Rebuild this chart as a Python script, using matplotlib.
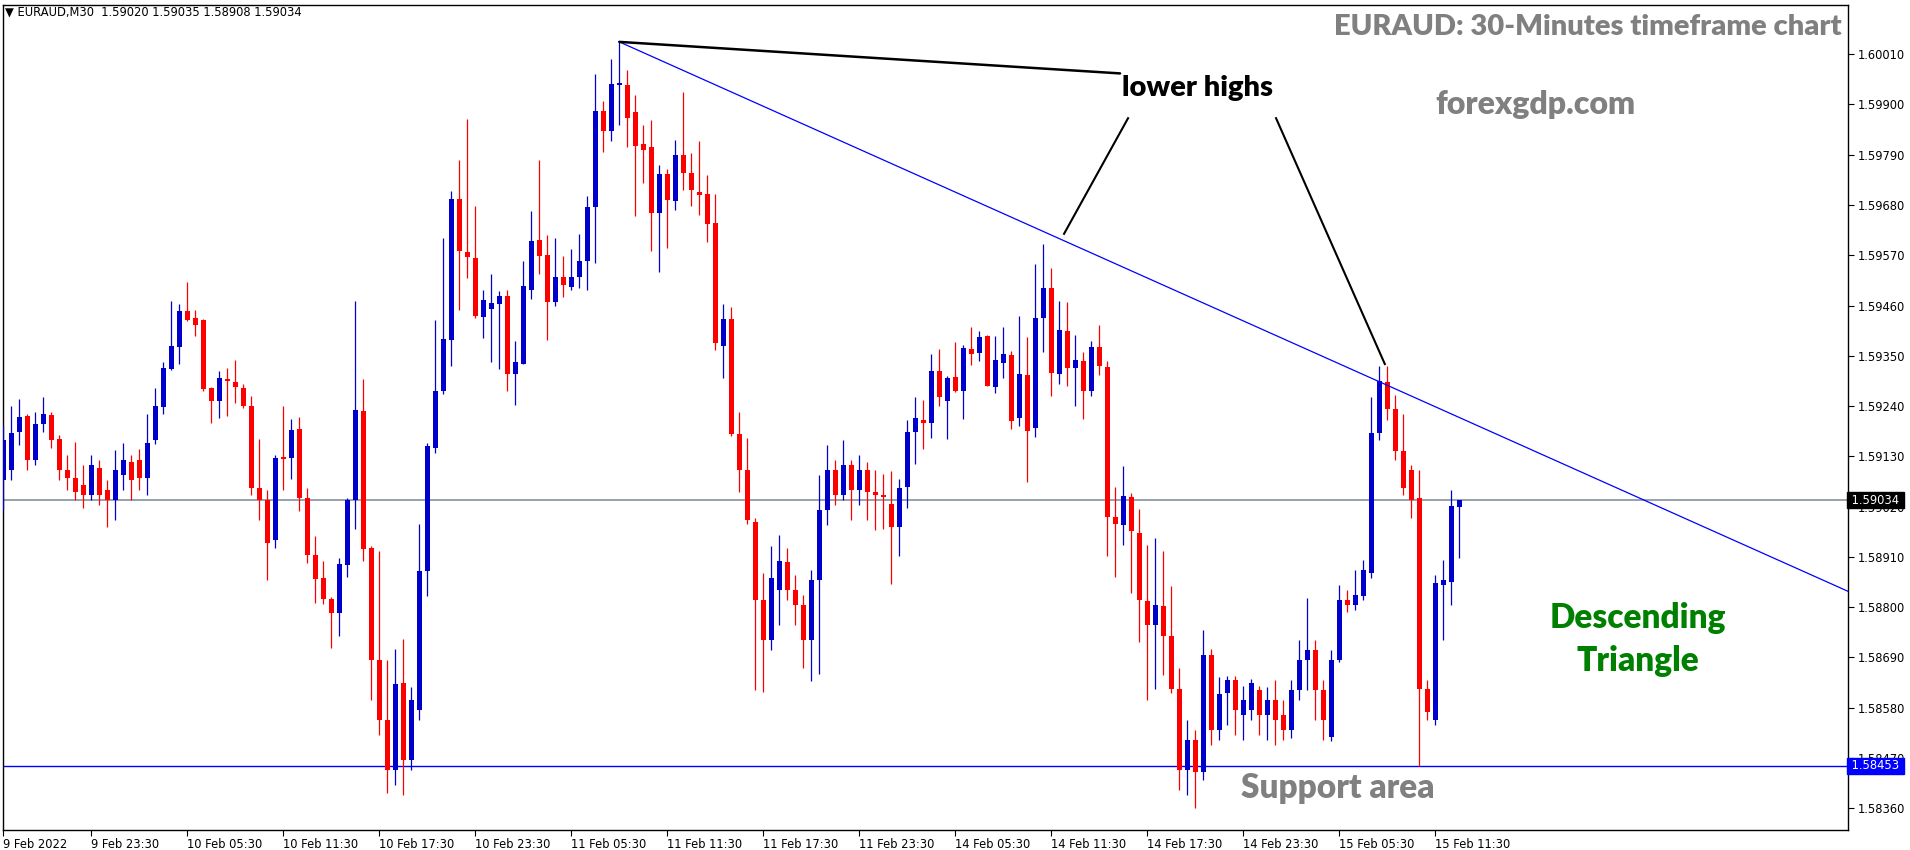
import matplotlib
matplotlib.use("Agg")
import matplotlib.pyplot as plt
import matplotlib.transforms as mtransforms
import numpy as np

# ---------------- data (EURAUD M30) ----------------
opens = [1.59079,1.59100,1.59184,1.59219,1.59122,1.59200,1.59221,1.59168,1.59100,1.59083,
1.59068,1.59046,1.59105,1.59057,1.59035,1.59090,1.59118,1.59122,1.59083,1.59165,
1.59239,1.59322,1.59370,1.59448,1.59433,1.59429,1.59280,1.59252,1.59300,1.59293,
1.59280,1.59241,1.59061,1.59035,1.58947,1.59129,1.59127,1.59190,1.59039,1.58915,
1.58864,1.58818,1.58788,1.58893,1.59035,1.59230,1.58930,1.58685,1.58553,1.58444,
1.58635,1.58466,1.58575,1.58878,1.59149,1.59273,1.59385,1.59693,1.59577,1.59564,
1.59435,1.59453,1.59464,1.59481,1.59311,1.59333,1.59495,1.59604,1.59571,1.59467,
1.59523,1.59501,1.59523,1.59558,1.59675,1.59886,1.59843,1.59942,1.59943,1.59884,
1.59814,1.59807,1.59663,1.59748,1.59688,1.59790,1.59750,1.59709,1.59704,1.59641,
1.59372,1.59431,1.59179,1.59100,1.58987,1.58816,1.58729,1.58838,1.58899,1.58838,
1.58805,1.58729,1.58860,1.59013,1.59100,1.59046,1.59111,1.59057,1.59100,1.59052,
1.59046,1.59026,1.58976,1.59064,1.59184,1.59210,1.59204,1.59317,1.59252,1.59304,
1.59274,1.59365,1.59357,1.59394,1.59281,1.59335,1.59352,1.59213,1.59308,1.59193,
1.59432,1.59499,1.59311,1.59405,1.59324,1.59339,1.59274,1.59370,1.59326,1.58998,
1.58979,1.59041,1.58963,1.58814,1.58760,1.58803,1.58737,1.58621,1.58444,1.58510,
1.58440,1.58696,1.58532,1.58612,1.58641,1.58564,1.58575,1.58619,1.58564,1.58597,
1.58564,1.58532,1.58619,1.58685,1.58707,1.58619,1.58516,1.58685,1.58816,1.58805,
1.58825,1.58875,1.59182,1.59293,1.59234,1.59142,1.59100,1.59039,1.58621,1.58553,
1.58849,1.58855,1.59020]

highs = [1.59199,1.59241,1.59256,1.59223,1.59227,1.59260,1.59227,1.59177,1.59133,1.59162,
1.59111,1.59133,1.59122,1.59079,1.59144,1.59160,1.59133,1.59146,1.59223,1.59280,
1.59337,1.59470,1.59464,1.59512,1.59451,1.59431,1.59282,1.59317,1.59324,1.59341,
1.59289,1.59262,1.59168,1.59057,1.59133,1.59241,1.59212,1.59216,1.59061,1.58956,
1.58901,1.58823,1.58908,1.59039,1.59470,1.59300,1.58934,1.58923,1.58685,1.58709,
1.58731,1.58626,1.58982,1.59160,1.59429,1.59608,1.59711,1.59779,1.59869,1.59678,
1.59494,1.59529,1.59492,1.59494,1.59383,1.59558,1.59667,1.59779,1.59615,1.59608,
1.59569,1.59584,1.59617,1.59700,1.59967,1.59908,1.60000,1.60037,1.59976,1.59921,
1.59855,1.59866,1.59768,1.59759,1.59823,1.59928,1.59794,1.59820,1.59746,1.59704,
1.59464,1.59457,1.59227,1.59171,1.58994,1.58874,1.58934,1.58958,1.58930,1.58871,
1.58827,1.58882,1.59090,1.59155,1.59122,1.59166,1.59122,1.59133,1.59118,1.59100,
1.59092,1.59098,1.59081,1.59210,1.59260,1.59254,1.59354,1.59365,1.59306,1.59381,
1.59374,1.59413,1.59405,1.59396,1.59394,1.59413,1.59361,1.59437,1.59392,1.59551,
1.59595,1.59542,1.59470,1.59468,1.59396,1.59359,1.59383,1.59418,1.59339,1.59063,
1.59109,1.59050,1.59014,1.58935,1.58952,1.58922,1.58847,1.58666,1.58553,1.58532,
1.58750,1.58709,1.58648,1.58650,1.58650,1.58628,1.58643,1.58628,1.58626,1.58641,
1.58597,1.58641,1.58729,1.58820,1.58729,1.58641,1.58707,1.58849,1.58838,1.58882,
1.58904,1.59260,1.59328,1.59328,1.59265,1.59223,1.59111,1.59100,1.58641,1.58871,
1.58904,1.59057,1.59035]

lows = [1.59013,1.59079,1.59155,1.59100,1.59111,1.59184,1.59149,1.59079,1.59057,1.59035,
1.59017,1.59035,1.59024,1.58976,1.58991,1.59057,1.59035,1.59057,1.59046,1.59156,
1.59222,1.59320,1.59331,1.59427,1.59394,1.59274,1.59202,1.59215,1.59219,1.59246,
1.59235,1.59046,1.58991,1.58860,1.58930,1.59056,1.59081,1.59010,1.58897,1.58810,
1.58806,1.58711,1.58736,1.58867,1.58972,1.58900,1.58597,1.58521,1.58394,1.58411,
1.58389,1.58444,1.58553,1.58825,1.59138,1.59266,1.59327,1.59451,1.59521,1.59432,
1.59388,1.59337,1.59321,1.59273,1.59243,1.59333,1.59475,1.59530,1.59385,1.59460,
1.59478,1.59493,1.59499,1.59493,1.59554,1.59797,1.59819,1.59856,1.59808,1.59656,
1.59729,1.59580,1.59534,1.59585,1.59668,1.59712,1.59677,1.59659,1.59598,1.59362,
1.59302,1.59175,1.59053,1.58981,1.58619,1.58615,1.58707,1.58761,1.58816,1.58761,
1.58667,1.58639,1.58654,1.58980,1.59024,1.59035,1.58991,1.59024,1.58991,1.58969,
1.58970,1.58850,1.58913,1.59016,1.59114,1.59145,1.59171,1.59241,1.59169,1.59271,
1.59211,1.59329,1.59338,1.59283,1.59268,1.59302,1.59189,1.59197,1.59073,1.59173,
1.59359,1.59263,1.59289,1.59285,1.59241,1.59211,1.59263,1.59309,1.58913,1.58867,
1.58935,1.58832,1.58723,1.58597,1.58621,1.58652,1.58612,1.58400,1.58389,1.58361,
1.58422,1.58499,1.58510,1.58542,1.58521,1.58510,1.58553,1.58521,1.58510,1.58499,
1.58510,1.58514,1.58597,1.58619,1.58553,1.58510,1.58508,1.58680,1.58790,1.58794,
1.58816,1.58864,1.59166,1.59210,1.59122,1.59046,1.58996,1.58453,1.58553,1.58542,
1.58729,1.58805,1.58908]

closes = [1.59166,1.59182,1.59216,1.59122,1.59201,1.59223,1.59165,1.59100,1.59083,1.59052,
1.59046,1.59111,1.59046,1.59035,1.59100,1.59122,1.59079,1.59083,1.59160,1.59241,
1.59324,1.59372,1.59448,1.59429,1.59418,1.59278,1.59252,1.59302,1.59294,1.59281,
1.59241,1.59061,1.59035,1.58941,1.59127,1.59125,1.59188,1.59039,1.58915,1.58862,
1.58817,1.58788,1.58895,1.59035,1.59232,1.58928,1.58685,1.58553,1.58444,1.58632,
1.58466,1.58597,1.58880,1.59152,1.59273,1.59387,1.59693,1.59580,1.59567,1.59437,
1.59472,1.59466,1.59481,1.59311,1.59337,1.59503,1.59602,1.59569,1.59467,1.59523,
1.59504,1.59523,1.59558,1.59676,1.59886,1.59843,1.59945,1.59947,1.59871,1.59810,
1.59801,1.59663,1.59748,1.59690,1.59790,1.59751,1.59712,1.59703,1.59639,1.59377,
1.59431,1.59178,1.59101,1.58990,1.58816,1.58729,1.58864,1.58900,1.58838,1.58805,
1.58729,1.58860,1.59013,1.59100,1.59046,1.59111,1.59057,1.59100,1.59052,1.59046,
1.59040,1.58976,1.59061,1.59184,1.59214,1.59204,1.59317,1.59259,1.59302,1.59274,
1.59368,1.59355,1.59392,1.59285,1.59341,1.59354,1.59208,1.59311,1.59186,1.59433,
1.59499,1.59313,1.59407,1.59324,1.59340,1.59274,1.59370,1.59327,1.58998,1.58981,
1.59044,1.58966,1.58815,1.58760,1.58805,1.58736,1.58621,1.58444,1.58510,1.58440,
1.58696,1.58532,1.58610,1.58641,1.58575,1.58597,1.58634,1.58564,1.58597,1.58553,
1.58532,1.58619,1.58685,1.58707,1.58619,1.58553,1.58685,1.58816,1.58805,1.58827,
1.58882,1.59182,1.59295,1.59234,1.59142,1.59061,1.59035,1.58621,1.58571,1.58853,
1.58860,1.59022,1.59034]

time_tick_bars = [0, 11, 23, 35, 47, 59, 71, 83, 95, 107, 119, 131, 143, 155, 167, 179]
time_tick_labels = ["9 Feb 2022", "9 Feb 23:30", "10 Feb 05:30", "10 Feb 11:30", "10 Feb 17:30",
                    "10 Feb 23:30", "11 Feb 05:30", "11 Feb 11:30", "11 Feb 17:30", "11 Feb 23:30",
                    "14 Feb 05:30", "14 Feb 11:30", "14 Feb 17:30", "14 Feb 23:30", "15 Feb 05:30",
                    "15 Feb 11:30"]
price_ticks = [1.60010, 1.59900, 1.59790, 1.59680, 1.59570, 1.59460, 1.59350, 1.59240,
               1.59130, 1.59020, 1.58910, 1.58800, 1.58690, 1.58580, 1.58470, 1.58360]

current_price = 1.59034
support_price = 1.58453
trend_start_bar, trend_start_price = 77, 1.60037
trend_end_bar, trend_end_price = 230.3, 1.58837

# ---------------- figure ----------------
W, H = 1910, 850
fig = plt.figure(figsize=(W / 100, H / 100), dpi=100)
fig.patch.set_facecolor("white")
x0, x1, y0, y1 = 2.7, 1848, 5, 830
ax = fig.add_axes([x0 / W, 1 - y1 / H, (x1 - x0) / W, (y1 - y0) / H])
ax.set_facecolor("white")

o = np.array(opens); h = np.array(highs); l = np.array(lows); c = np.array(closes)
idx = np.arange(len(o))
bull = c >= o
colors = np.where(bull, "#0000cd", "#ff0000")

ax.vlines(idx, l, h, colors=colors, linewidth=0.9, zorder=3)
body_low = np.minimum(o, c)
body_h = np.maximum(np.abs(c - o), 0.000025)
ax.bar(idx, body_h, bottom=body_low, width=0.64, color=colors, linewidth=0, zorder=4)

ax.set_xlim(-0.08, 230.6)
ax.set_ylim(1.583123, 1.601177)

# horizontal lines
ax.axhline(current_price, color="#8592a0", linewidth=1.2, zorder=2)
ax.axhline(support_price, color="#0000ff", linewidth=1.0, zorder=2)

# descending trend line (ray)
slope = (trend_end_price - trend_start_price) / (trend_end_bar - trend_start_bar)
ax.plot([trend_start_bar, trend_end_bar + 5],
        [trend_start_price, trend_start_price + slope * (trend_end_bar + 5 - trend_start_bar)],
        color="#0000ff", linewidth=0.9, zorder=5)

# annotation lines ("lower highs")
ax.plot([77, 139.6], [1.60037, 1.59968], color="black", linewidth=1.8, zorder=6, solid_capstyle="round")
ax.plot([140.6, 132.6], [1.59870, 1.59617], color="black", linewidth=1.5, zorder=6)
ax.plot([159.1, 172.7], [1.59870, 1.59332], color="black", linewidth=1.5, zorder=6)

bold = dict(family="Lato", fontweight="heavy")
ax.text(229.8, 1.60070, "EURAUD: 30-Minutes timeframe chart", ha="right", va="center",
        fontsize=21, color="#808080", zorder=7, **bold)
ax.text(191.5, 1.59899, "forexgdp.com", ha="center", va="center", fontsize=23,
        color="#808080", zorder=7, **bold)
ax.text(149.3, 1.59936, "lower highs", ha="center", va="center", fontsize=21,
        color="black", zorder=7, **bold)
ax.text(204.3, 1.58776, "Descending", ha="center", va="center", fontsize=24,
        color="#008000", zorder=7, **bold)
ax.text(204.3, 1.58682, "Triangle", ha="center", va="center", fontsize=24,
        color="#008000", zorder=7, **bold)
ax.text(166.8, 1.58404, "Support area", ha="center", va="center", fontsize=24,
        color="#808080", zorder=7, **bold)

# header
fig.text(5 / W, 1 - 12 / H, "\u25BC EURAUD,M30  1.59020 1.59035 1.58908 1.59034",
         ha="left", va="center", fontsize=8.3, color="black", family="DejaVu Sans")

# axes styling
for s in ax.spines.values():
    s.set_color("black")
    s.set_linewidth(1.0)
ax.yaxis.tick_right()
ax.set_yticks(price_ticks)
ax.set_yticklabels([f"{v:.5f}" for v in price_ticks])
ax.tick_params(axis="y", direction="out", length=4, width=0.8, pad=3, labelsize=8.3, colors="black")
ax.set_xticks(time_tick_bars)
ax.set_xticklabels(time_tick_labels, ha="left")
ax.tick_params(axis="x", direction="out", length=4, width=0.8, pad=2, labelsize=8.3, colors="black")

# price boxes on the right axis
trans = mtransforms.blended_transform_factory(ax.transAxes, ax.transData)
ax.text(1.0, current_price, " 1.59034 ", transform=trans, ha="left", va="center", fontsize=8.3,
        color="white", zorder=10, clip_on=False,
        bbox=dict(boxstyle="square,pad=0.12", facecolor="black", edgecolor="black"))
ax.text(1.0, support_price, " 1.58453 ", transform=trans, ha="left", va="center", fontsize=8.3,
        color="white", zorder=10, clip_on=False,
        bbox=dict(boxstyle="square,pad=0.12", facecolor="#0000ff", edgecolor="#0000ff"))

fig.savefig("out.png", dpi=100, facecolor="white")
